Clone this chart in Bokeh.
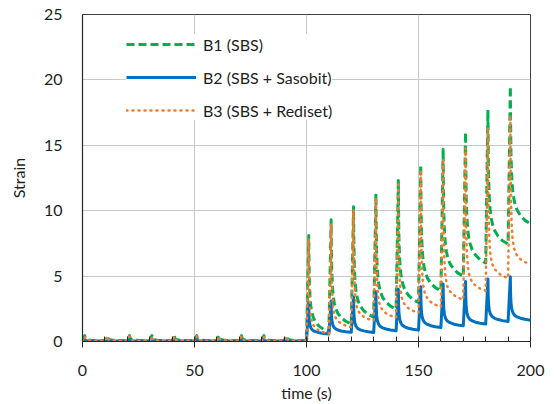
from bokeh.plotting import figure
from bokeh.models import Range1d, SingleIntervalTicker, Legend, LegendItem
from bokeh.embed import file_html
from bokeh.resources import INLINE

# ---- data ----
cycle_start = [0, 10, 20, 30, 40, 50, 60, 70, 80, 90,
               100, 110, 120, 130, 140, 150, 160, 170, 180, 190]
creep_time = 1.0  # loading part of every cycle (s)

# strain at the end of loading (peak) and at the end of recovery, per cycle
peak_b1 = [0.45, 0.45, 0.45, 0.45, 0.45, 0.45, 0.45, 0.45, 0.45, 0.45,
           8.1, 9.3, 10.3, 11.3, 12.3, 13.5, 14.7, 16.0, 17.7, 19.5]
end_b1 = [0.05, 0.05, 0.05, 0.05, 0.05, 0.05, 0.05, 0.05, 0.05, 0.05,
          0.75, 1.35, 1.86, 2.48, 2.98, 3.88, 5.0, 6.0, 7.45, 9.0]
peak_b2 = [0.15, 0.15, 0.15, 0.15, 0.15, 0.15, 0.15, 0.15, 0.15, 0.15,
           3.0, 3.1, 3.4, 3.8, 4.0, 4.18, 4.39, 4.59, 4.77, 4.95]
end_b2 = [0.03, 0.03, 0.03, 0.03, 0.03, 0.03, 0.03, 0.03, 0.03, 0.03,
          0.57, 0.7, 0.69, 0.82, 0.87, 1.07, 1.2, 1.33, 1.53, 1.63]
peak_b3 = [0.4, 0.4, 0.4, 0.4, 0.4, 0.4, 0.4, 0.4, 0.4, 0.4,
           7.9, 9.0, 10.1, 11.0, 12.0, 13.1, 14.0, 14.8, 16.3, 17.3]
end_b3 = [0.05, 0.05, 0.05, 0.05, 0.05, 0.05, 0.05, 0.05, 0.05, 0.05,
          0.6, 1.1, 1.6, 1.84, 2.2, 2.65, 3.2, 3.88, 4.85, 5.9]

# share of the recoverable strain still present, read at times after unloading (s)
rec_dt = [0, 0.1, 0.3, 0.6, 1, 1.5, 2, 3, 4.5, 6.5, 9]
rec_b1 = [1, 0.75, 0.5, 0.35, 0.25, 0.19, 0.15, 0.1, 0.06, 0.025, 0]
rec_b2 = [1, 0.65, 0.4, 0.27, 0.19, 0.14, 0.11, 0.075, 0.045, 0.02, 0]
rec_b3 = [1, 0.7, 0.42, 0.27, 0.17, 0.12, 0.09, 0.06, 0.035, 0.015, 0]

series_names = ["B1 (SBS)", "B2 (SBS + Sasobit)", "B3 (SBS + Rediset)"]
x_ticks_interval = 50
y_ticks_interval = 5


def build(peaks, ends, rec, start0):
    t, s = [], []
    prev = start0
    for t0, pk, en in zip(cycle_start, peaks, ends):
        t.append(t0)
        s.append(prev)
        for dt, f in zip(rec_dt, rec):
            t.append(t0 + creep_time + dt)
            s.append(en + (pk - en) * f)
        prev = en
    return t, s


t1, s1 = build(peak_b1, end_b1, rec_b1, end_b1[0])
t2, s2 = build(peak_b2, end_b2, rec_b2, end_b2[0])
t3, s3 = build(peak_b3, end_b3, rec_b3, end_b3[0])

FONT = "Lato"
TXT = "#1e1e1e"
FS = "16px"

p = figure(width=554, height=404, output_backend="svg", toolbar_location=None,
           x_range=Range1d(0, 200), y_range=Range1d(0, 25),
           min_border_left=82, min_border_right=24, min_border_top=14,
           min_border_bottom=63)
p.outline_line_color = "#404040"
p.outline_line_width = 1

r1 = p.line(t1, s1, line_color="#00b050", line_width=3, line_dash="8 4",
            line_join="round")
r2 = p.line(t2, s2, line_color="#0070c0", line_width=3, line_join="round")
r3 = p.line(t3, s3, line_color="#ed7d31", line_width=2.5, line_dash="1 5",
            line_cap="round", line_join="round")

# axes
p.xaxis.ticker = SingleIntervalTicker(interval=x_ticks_interval, num_minor_ticks=5)
p.yaxis.ticker = SingleIntervalTicker(interval=y_ticks_interval, num_minor_ticks=0)
p.xaxis.axis_label = "time (s)"
p.yaxis.axis_label = "Strain"
for ax in (p.xaxis, p.yaxis):
    ax.axis_line_color = "#262626"
    ax.axis_line_width = 1.2
    ax.major_label_text_font = FONT
    ax.major_label_text_font_size = FS
    ax.major_label_text_color = TXT
    ax.axis_label_text_font = FONT
    ax.axis_label_text_font_size = FS
    ax.axis_label_text_font_style = "normal"
    ax.axis_label_text_color = TXT
p.xaxis.major_tick_in = 0
p.xaxis.major_tick_out = 6
p.xaxis.minor_tick_in = 5
p.xaxis.minor_tick_out = 0
p.xaxis.major_tick_line_color = "#262626"
p.xaxis.minor_tick_line_color = "#262626"
p.xaxis.major_label_standoff = 17
p.xaxis.axis_label_standoff = 4
p.yaxis.major_tick_in = 0
p.yaxis.major_tick_out = 0
p.yaxis.minor_tick_line_color = None
p.yaxis.major_label_standoff = 20
p.yaxis.axis_label_standoff = 13

p.xgrid.grid_line_color = "#c8c8c8"
p.ygrid.grid_line_color = "#c8c8c8"
p.xgrid.grid_line_width = 1
p.ygrid.grid_line_width = 1

legend = Legend(items=[LegendItem(label=series_names[0], renderers=[r1]),
                       LegendItem(label=series_names[1], renderers=[r2]),
                       LegendItem(label=series_names[2], renderers=[r3])],
                location=(44, 221))
legend.border_line_color = None
legend.background_fill_color = "white"
legend.background_fill_alpha = 1
legend.padding = 10
legend.spacing = 13
legend.glyph_width = 70
legend.glyph_height = 20
legend.label_standoff = 7
legend.label_text_font = FONT
legend.label_text_font_size = FS
legend.label_text_color = TXT
legend.label_height = 20
p.add_layout(legend)

open("out.html", "w").write(file_html(p, INLINE))
